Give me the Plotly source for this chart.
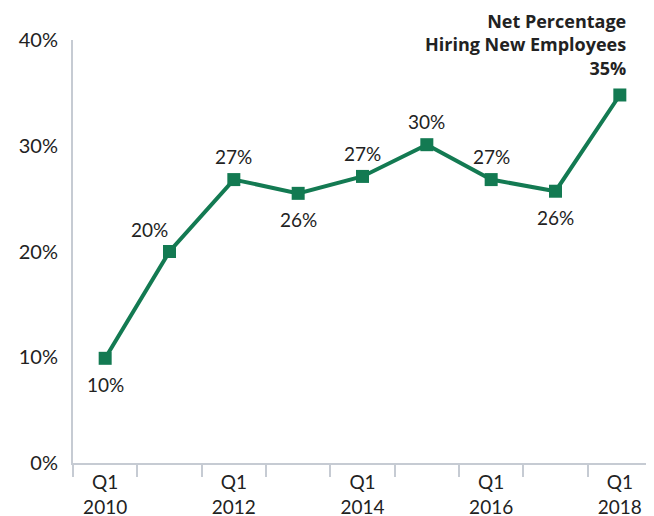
import plotly.graph_objects as go

years = ["2010", "2011", "2012", "2013", "2014", "2015", "2016", "2017", "2018"]
values = [9.9, 20.0, 26.8, 25.5, 27.1, 30.1, 26.8, 25.7, 34.8]
labels = ["10%", "20%", "27%", "26%", "27%", "30%", "27%", "26%", "35%"]
label_side = ["below", "left", "above", "below", "above", "above", "above", "below", None]
tick_years = ["2010", "2012", "2014", "2016", "2018"]
y_ticks = [0, 10, 20, 30, 40]
title_lines = ["Net Percentage", "Hiring New Employees"]

x = list(range(len(years)))
tickvals = [years.index(y) for y in tick_years]
ticktext = [f"Q1<br>{y}" for y in tick_years]

GREEN = "#137a52"
AXIS = "#c6cbd3"
FONT = "Lato, Liberation Sans, sans-serif"
TFONT = "Open Sans, Lato, sans-serif"
SHIFTS = {"above": (0, 23), "below": (0, -26), "left": (-20, 22)}

fig = go.Figure()
fig.add_trace(go.Scatter(
    x=x, y=values, mode="lines+markers",
    line=dict(color=GREEN, width=4),
    marker=dict(symbol="square", size=13, color=GREEN),
    cliponaxis=False, hoverinfo="skip", showlegend=False,
))

for xi, v, lab, side in zip(x, values, labels, label_side):
    if side is None:
        continue
    dx, dy = SHIFTS[side]
    fig.add_annotation(x=xi, y=v, text=lab, showarrow=False, xshift=dx, yshift=dy,
                       xanchor="center", yanchor="middle",
                       font=dict(family=FONT, size=19, color="#222222"))

fig.add_annotation(
    text="<b>" + "<br>".join(title_lines + [labels[-1]]) + "</b>",
    xref="paper", yref="paper", x=0.9585, y=0.99, xanchor="right", yanchor="middle",
    align="right", showarrow=False,
    font=dict(family=TFONT, size=18, color="#222222"),
)

fig.update_layout(
    width=646, height=512,
    margin=dict(l=65, r=2, t=32, b=57),
    paper_bgcolor="white", plot_bgcolor="white",
    font=dict(family=FONT, size=19, color="#222222"),
    xaxis=dict(
        range=[-0.5, len(years) - 0.5], tickmode="array", tickvals=tickvals, ticktext=ticktext,
        ticks="", showline=True, linecolor=AXIS, linewidth=2, showgrid=False, zeroline=False,
        tickfont=dict(size=19), ticklabelstandoff=1, fixedrange=True, automargin=False,
        minor=dict(tickmode="array", tickvals=[i - 0.5 for i in range(len(years) + 1)],
                   ticks="outside", ticklen=12, tickcolor=AXIS, tickwidth=2, showgrid=False),
    ),
    yaxis=dict(
        range=[0, 40], tickmode="array", tickvals=y_ticks,
        ticktext=[f"{v}%" for v in y_ticks], ticks="", ticklen=0,
        showline=True, linecolor=AXIS, linewidth=2, showgrid=False, zeroline=False,
        tickfont=dict(size=20), ticklabelstandoff=9, fixedrange=True, automargin=False,
    ),
)

fig.write_html("out.html")
